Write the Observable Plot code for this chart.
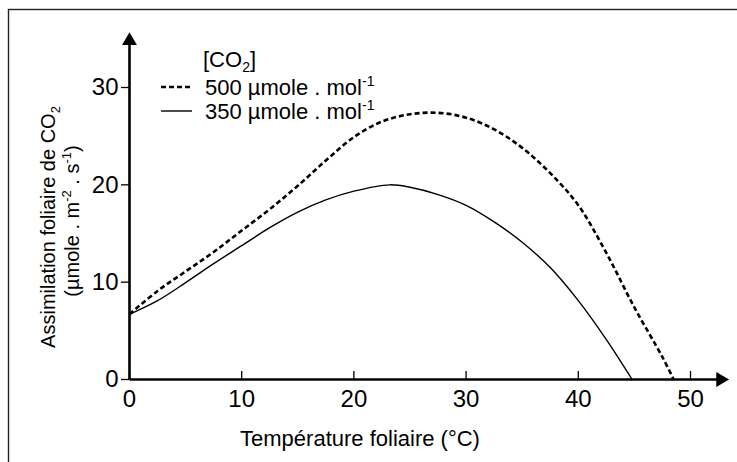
<!DOCTYPE html>
<html><head><meta charset="utf-8">
<script src="https://cdn.jsdelivr.net/npm/d3@7"></script>
<script src="https://cdn.jsdelivr.net/npm/@observablehq/plot@0.6"></script>
<style>
body{margin:0;background:#fff}
#chart{position:relative;width:737px;height:462px;overflow:hidden;background:#fff}
</style>
</head><body><div id="chart"></div>
<script>
// Data
const temps350 = [0, 2.5, 5, 7.5, 10, 12.5, 15, 17.5, 20, 23.2, 25, 27.5, 30, 32.5, 35, 37.5, 40, 42.5, 44.8];
const assim350 = [6.7, 8.1, 9.95, 11.9, 13.75, 15.6, 17.2, 18.45, 19.35, 20.0, 19.75, 19.0, 17.9, 16.2, 14.1, 11.5, 8.1, 4.1, 0];
const temps500 = [0, 2.5, 5, 7.5, 10, 12.5, 15, 17.5, 20, 22.5, 25, 27.5, 30, 32.5, 35, 37.5, 40, 42.5, 45, 47.5, 48.5];
const assim500 = [6.7, 9.1, 11.1, 13.1, 15.3, 17.5, 19.9, 22.5, 24.9, 26.5, 27.25, 27.4, 26.9, 25.7, 23.8, 21.2, 17.9, 13.0, 7.4, 2.3, 0];
const xTicks = [0, 10, 20, 30, 40, 50];
const yTicks = [0, 10, 20, 30];
const legendTitle = "[CO";
const seriesNames = ["500 µmole . mol", "350 µmole . mol"];
const xTitle = "Température foliaire (°C)";
const yTitle1 = "Assimilation foliaire de CO";
const yTitle2 = ["(µmole . m", "-2", " . s", "-1", ")"];

const FONT = "'Liberation Sans', Arial, Helvetica, sans-serif";
const s350 = temps350.map((t, i) => ({t, a: assim350[i]}));
const s500 = temps500.map((t, i) => ({t, a: assim500[i]}));
const X_END = 52.5, Y_END = 34.6;

const plot = Plot.plot({
  width: 737, height: 462,
  marginLeft: 129, marginRight: 47, marginTop: 87, marginBottom: 83,
  x: {domain: [0, 50]},
  y: {domain: [0, 30]},
  style: {fontFamily: FONT, fontSize: "24px", color: "#000", background: "transparent", overflow: "visible"},
  marks: [
    Plot.axisX(xTicks, {tickSize: -8, tickFormat: () => "", strokeWidth: 1.3}),
    Plot.axisX(xTicks, {tickSize: 0, tickPadding: 10, label: null, fontSize: 24}),
    Plot.axisY(yTicks, {tickSize: 8, tickPadding: 3, label: null, fontSize: 24, strokeWidth: 1.3}),
    Plot.line(s350, {x: "t", y: "a", curve: "catmull-rom", stroke: "#000", strokeWidth: 1.4}),
    Plot.line(s500, {x: "t", y: "a", curve: "catmull-rom", stroke: "#000", strokeWidth: 2.6, strokeDasharray: "5,3", strokeLinecap: "butt"}),
    Plot.link([{x1: 0, y1: 0, x2: X_END, y2: 0}], {x1: "x1", y1: "y1", x2: "x2", y2: "y2", stroke: "#000", strokeWidth: 2.6}),
    Plot.link([{x1: 0, y1: 0, x2: 0, y2: Y_END}], {x1: "x1", y1: "y1", x2: "x2", y2: "y2", stroke: "#000", strokeWidth: 2.6}),
    Plot.dot([{x: X_END, y: 0}], {x: "x", y: "y", symbol: "triangle", r: 5.5, fill: "#000", stroke: null, rotate: 90, dx: 2}),
    Plot.dot([{x: 0, y: Y_END}], {x: "x", y: "y", symbol: "triangle", r: 5.5, fill: "#000", stroke: null, dy: -2})
  ]
});
document.getElementById("chart").appendChild(plot);

const svg = d3.select(plot);
// make sure tick labels get the intended size
svg.selectAll("g[aria-label='x-axis tick label'], g[aria-label='y-axis tick label']")
  .attr("font-size", 24).style("font-size", "24px");

// frame
svg.append("rect").attr("x", 8.5).attr("y", 9.5).attr("width", 760).attr("height", 470)
  .attr("fill", "none").attr("stroke", "#222").attr("stroke-width", 1.4);

// x title
svg.append("text").attr("x", 360).attr("y", 446).attr("text-anchor", "middle")
  .attr("font-family", FONT).attr("font-size", 22).attr("fill", "#000").text(xTitle);

// y title (two lines)
const t1 = svg.append("text").attr("transform", "translate(55,227) rotate(-90)").attr("text-anchor", "middle")
  .attr("font-family", FONT).attr("font-size", 20).attr("fill", "#000");
t1.append("tspan").text(yTitle1);
t1.append("tspan").attr("font-size", 13).attr("dy", 5).text("2");
const t2 = svg.append("text").attr("transform", "translate(79,221) rotate(-90)").attr("text-anchor", "middle")
  .attr("font-family", FONT).attr("font-size", 20).attr("fill", "#000");
t2.append("tspan").text(yTitle2[0]);
t2.append("tspan").attr("font-size", 13).attr("dy", -8).text(yTitle2[1]);
t2.append("tspan").attr("dy", 8).text(yTitle2[2]);
t2.append("tspan").attr("font-size", 13).attr("dy", -8).text(yTitle2[3]);
t2.append("tspan").attr("dy", 8).text(yTitle2[4]);

// legend
const lg = svg.append("g").attr("font-family", FONT).attr("font-size", 22).attr("fill", "#000").attr("text-anchor", "start");
const lt = lg.append("text").attr("x", 203).attr("y", 67);
lt.append("tspan").text(legendTitle);
lt.append("tspan").attr("font-size", 14).attr("dy", 5).text("2");
lt.append("tspan").attr("dy", -5).text("]");
const rows = [{y: 95, dash: "5,3", w: 2.6}, {y: 119, dash: null, w: 1.4}];
rows.forEach((r, i) => {
  lg.append("line").attr("x1", 161).attr("x2", 192).attr("y1", r.y - 8).attr("y2", r.y - 8)
    .attr("stroke", "#000").attr("stroke-width", r.w).attr("stroke-dasharray", r.dash).attr("stroke-linecap", "butt");
  const tx = lg.append("text").attr("x", 205).attr("y", r.y);
  tx.append("tspan").text(seriesNames[i]);
  tx.append("tspan").attr("font-size", 14).attr("dy", -9).text("-1");
});
</script>
</body></html>
